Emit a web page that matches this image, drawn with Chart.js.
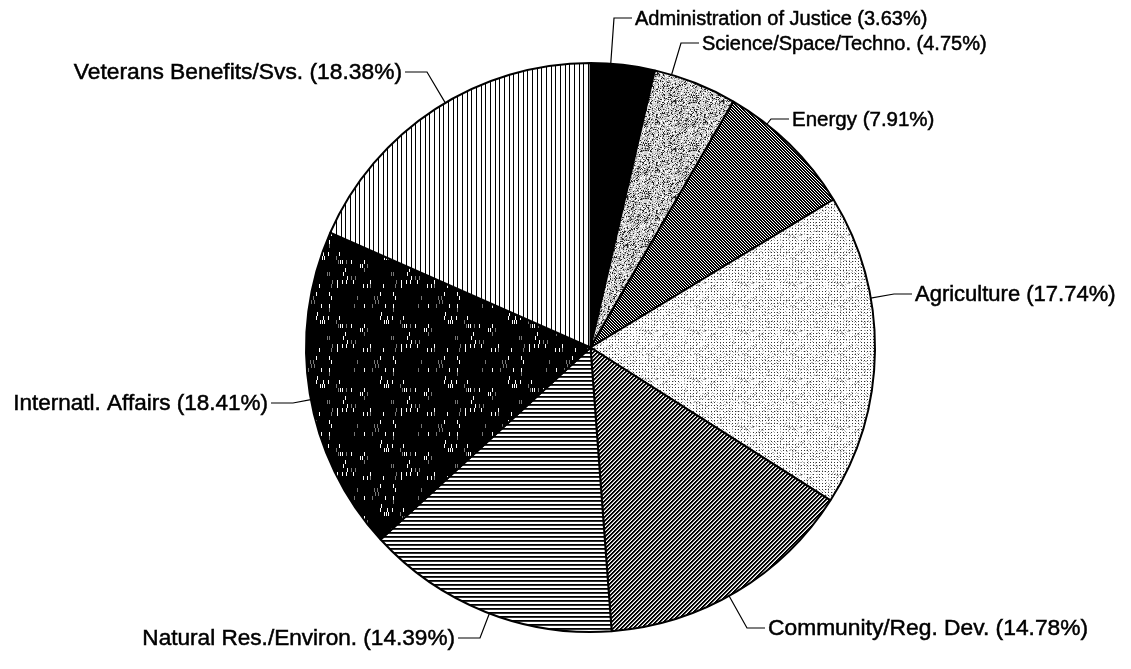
<!DOCTYPE html>
<html>
<head>
<meta charset="utf-8">
<script src="https://cdn.jsdelivr.net/npm/chart.js@4"></script>
<style>
  body { margin: 0; background: #fff; }
  #wrap { width: 1131px; height: 669px; }
</style>
</head>
<body>
<div id="wrap"><canvas id="myChart" width="1131" height="669"></canvas></div>
<script>
// budget shares, clockwise from 12 o'clock
const categories = ['Administration of Justice', 'Science/Space/Techno.', 'Energy', 'Agriculture',
  'Community/Reg. Dev.', 'Natural Res./Environ.', 'Internatl. Affairs', 'Veterans Benefits/Svs.'];
const shares = [3.63, 4.75, 7.91, 17.74, 14.78, 14.39, 18.41, 18.38];

// where each label text sits (x = text start for left, text end for right; y = middle)
const labelPos = [
  { x: 635, y: 18, align: 'left', size: 20 },
  { x: 702, y: 43, align: 'left', size: 20 },
  { x: 792, y: 119, align: 'left', size: 20.5 },
  { x: 915, y: 294, align: 'left', size: 22 },
  { x: 768, y: 628, align: 'left', size: 22.8 },
  { x: 455, y: 638, align: 'right', size: 22.6 },
  { x: 268, y: 403, align: 'right', size: 22.5 },
  { x: 402, y: 72, align: 'right', size: 22.8 }
];

// fixed pseudo-noise for textures only
function hash(x, y) {
  let n = Math.imul(x, 374761393) + Math.imul(y, 668265263);
  n = Math.imul(n ^ (n >>> 13), 1274126177);
  return ((n ^ (n >>> 16)) >>> 0) / 4294967296;
}

function tile(w, h, fn) {
  const c = document.createElement('canvas');
  c.width = w; c.height = h;
  const g = c.getContext('2d');
  for (let y = 0; y < h; y++) {
    for (let x = 0; x < w; x++) {
      const col = fn(x, y);
      if (col) { g.fillStyle = col; g.fillRect(x, y, 1, 1); }
    }
  }
  return g.createPattern(c, 'repeat');
}

const ctx = document.getElementById('myChart').getContext('2d');

const fills = [
  '#000',
  tile(48, 48, (x, y) => { const r = hash(x, y); return r < 0.16 ? '#222' : (r < 0.34 ? '#888' : (r > 0.82 ? '#fff' : '#d4d4d4')); }),
  tile(3, 3, (x, y) => ((x - y + 6) % 3 < 2 ? '#000' : '#fff')),
  tile(48, 48, (x, y) => (x % 3 == 0 && y % 3 == 0) ? (hash(x, y) < 0.8 ? '#333' : '#aaa') : (hash(x + 50, y) < 0.15 ? '#bbb' : '#fff')),
  tile(4, 4, (x, y) => { const k = (x + y) % 4; return k < 2 ? '#000' : (k == 2 ? '#999' : '#fff'); }),
  tile(1, 4, (x, y) => (y == 0 ? '#000' : (y == 1 ? '#333' : '#fff'))),
  tile(64, 64, (x, y) => { const r = hash(x, Math.floor(y / 4)); return r < 0.035 ? '#fff' : (r < 0.06 ? '#777' : '#000'); }),
  tile(14, 1, (x, y) => ((x == 0 || x == 5 || x == 9) ? '#000' : '#fff'))
];

const leaderLabels = {
  id: 'leaderLabels',
  afterDraw(chart) {
    const c = chart.ctx;
    const arcs = chart.getDatasetMeta(0).data;
    c.save();
    c.strokeStyle = '#000';
    c.fillStyle = '#000';
    c.textBaseline = 'middle';
    arcs.forEach((arc, i) => {
      const p = labelPos[i];
      const left = p.align == 'left';
      const ex = left ? p.x - 21 : p.x + 25;
      const tx = left ? p.x - 3 : p.x + 3;
      // attach point: arc edge towards the elbow, kept inside the slice
      let a = Math.atan2(p.y - arc.y, ex - arc.x);
      while (a < arc.startAngle) a += Math.PI * 2;
      while (a > arc.startAngle + Math.PI * 2) a -= Math.PI * 2;
      if (a > arc.endAngle) {
        const dEnd = a - arc.endAngle;
        const dStart = arc.startAngle + Math.PI * 2 - a;
        a = dEnd < dStart ? arc.endAngle : arc.startAngle;
      }
      const ax = arc.x + Math.cos(a) * arc.outerRadius;
      const ay = arc.y + Math.sin(a) * arc.outerRadius;
      c.lineWidth = 1.2;
      c.beginPath();
      c.moveTo(ax, ay);
      c.lineTo(ex, p.y);
      c.lineTo(tx, p.y);
      c.stroke();
      const txt = categories[i] + ' (' + shares[i].toFixed(2) + '%)';
      c.font = p.size + 'px "Liberation Sans", Arial, sans-serif';
      c.textAlign = p.align;
      c.fillText(txt, p.x, p.y + 1);
      // scanned print looks a little heavier
      c.lineWidth = 0.5;
      c.strokeText(txt, p.x, p.y + 1);
    });
    c.restore();
  }
};

new Chart(ctx, {
  type: 'pie',
  data: {
    labels: categories,
    datasets: [{
      data: shares,
      backgroundColor: fills,
      borderColor: '#000',
      borderWidth: 2
    }]
  },
  options: {
    responsive: false,
    devicePixelRatio: 1,
    animation: false,
    events: [],
    layout: { padding: { top: 62, bottom: 36, left: 305, right: 255 } },
    plugins: {
      legend: { display: false },
      tooltip: { enabled: false }
    }
  },
  plugins: [leaderLabels]
});
</script>
</body>
</html>
